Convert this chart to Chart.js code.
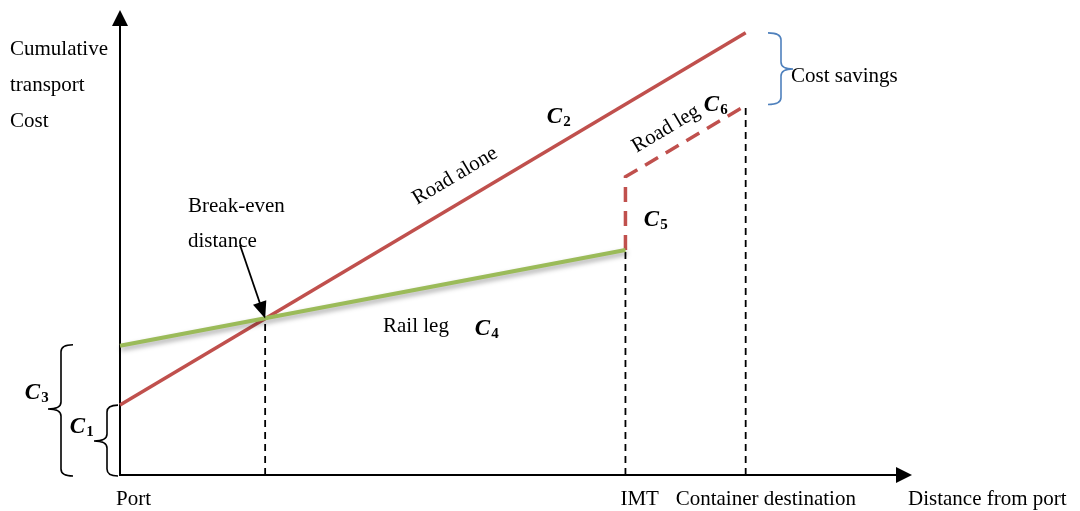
<!DOCTYPE html>
<html>
<head>
<meta charset="utf-8">
<script src="https://cdn.jsdelivr.net/npm/chart.js@4/dist/chart.umd.min.js"></script>
<style>
html,body{margin:0;padding:0;background:#fff;}
#wrap{width:1080px;height:511px;}
</style>
</head>
<body>
<div id="wrap"><canvas id="c" width="1080" height="511"></canvas></div>
<script>
// Key distances along the x axis (schematic units, 0..100)
const xPort = 0;
const xBreakEven = 18.35;
const xIMT = 63.9;
const xDestination = 79.1;

// Cumulative cost values (schematic units, 0..100)
const roadAloneX = [xPort, xDestination];
const roadAloneY = [15.1, 95.5];
const railLegX = [xPort, xIMT];
const railLegY = [27.9, 48.6];
const roadLegX = [xIMT, xIMT, xDestination];
const roadLegY = [48.6, 64.4, 79.8];
const breakEvenY = 33.8;

// Labels
const yAxisTitle = ["Cumulative", "transport", "Cost"];
const xAxisTitle = "Distance from port";
const xTickLabels = ["Port", "IMT", "Container destination"];

const RED = '#C0504D', GREEN = '#9BBB59', BLUE = '#4F81BD';
const pts = (xs, ys) => xs.map((x, i) => ({x, y: ys[i]}));

const SERIF = '"Liberation Serif", "Times New Roman", serif';

function brace(ctx, xEdge, xMid, xTip, y1, y2, ym, color, lw) {
  const r = 7;
  ctx.save();
  ctx.strokeStyle = color; ctx.lineWidth = lw;
  ctx.beginPath();
  ctx.moveTo(xEdge, y1);
  ctx.quadraticCurveTo(xMid, y1, xMid, y1 + r);
  ctx.lineTo(xMid, ym - r);
  ctx.quadraticCurveTo(xMid, ym, xTip, ym);
  ctx.quadraticCurveTo(xMid, ym, xMid, ym + r);
  ctx.lineTo(xMid, y2 - r);
  ctx.quadraticCurveTo(xMid, y2, xEdge, y2);
  ctx.stroke();
  ctx.restore();
}

function cLabel(ctx, sub, cx, cy) {
  ctx.save();
  ctx.fillStyle = '#000';
  ctx.textBaseline = 'alphabetic';
  ctx.font = 'bold italic 23px ' + SERIF;
  const w = ctx.measureText('C').width;
  const x0 = cx - (w + 9) / 2;
  ctx.fillText('C', x0, cy + 8);
  ctx.font = 'bold 15px ' + SERIF;
  ctx.fillText(sub, x0 + w + 1, cy + 11);
  ctx.restore();
}

function rotText(ctx, text, cx, cy, ang) {
  ctx.save();
  ctx.translate(cx, cy);
  ctx.rotate(ang);
  ctx.textAlign = 'center';
  ctx.textBaseline = 'middle';
  ctx.fillText(text, 0, 0);
  ctx.restore();
}

const diagramPlugin = {
  id: 'diagram',
  beforeDatasetsDraw(chart) {
    const ctx = chart.ctx;
    const xs = chart.scales.x, ys = chart.scales.y;
    const x0 = xs.getPixelForValue(0), y0 = ys.getPixelForValue(0);
    const xEnd = xs.right, yEnd = ys.top;
    ctx.save();
    ctx.strokeStyle = '#000'; ctx.fillStyle = '#000'; ctx.lineWidth = 2;
    // y axis
    ctx.beginPath(); ctx.moveTo(x0, y0 + 1); ctx.lineTo(x0, yEnd + 12); ctx.stroke();
    ctx.beginPath(); ctx.moveTo(x0, yEnd - 2); ctx.lineTo(x0 - 8, yEnd + 14); ctx.lineTo(x0 + 8, yEnd + 14); ctx.closePath(); ctx.fill();
    // x axis
    ctx.beginPath(); ctx.moveTo(x0 - 1, y0); ctx.lineTo(xEnd - 12, y0); ctx.stroke();
    ctx.beginPath(); ctx.moveTo(xEnd + 1, y0); ctx.lineTo(xEnd - 15, y0 - 8); ctx.lineTo(xEnd - 15, y0 + 8); ctx.closePath(); ctx.fill();
    ctx.restore();
  },
  beforeDatasetDraw(chart, args) {
    const ds = chart.data.datasets[args.index];
    if (ds.shadow) {
      const ctx = chart.ctx;
      ctx.save();
      ctx.shadowColor = 'rgba(0,0,0,0.35)';
      ctx.shadowBlur = 5;
      ctx.shadowOffsetX = 1;
      ctx.shadowOffsetY = 3;
    }
  },
  afterDatasetDraw(chart, args) {
    const ds = chart.data.datasets[args.index];
    if (ds.shadow) chart.ctx.restore();
  },
  afterDatasetsDraw(chart) {
    const ctx = chart.ctx;
    const xs = chart.scales.x, ys = chart.scales.y;
    const px = v => xs.getPixelForValue(v), py = v => ys.getPixelForValue(v);
    ctx.save();
    ctx.fillStyle = '#000';
    ctx.font = '21px ' + SERIF;
    ctx.textBaseline = 'alphabetic';
    // y axis title
    ctx.fillText(yAxisTitle[0], 10, 55);
    ctx.fillText(yAxisTitle[1], 10, 91);
    ctx.fillText(yAxisTitle[2], 10, 127);
    // x labels
    ctx.fillText(xTickLabels[0], px(xPort) - 4, 505);
    ctx.fillText(xTickLabels[1], px(xIMT) - 5, 505);
    ctx.fillText(xTickLabels[2], px(xDestination) - 70, 505);
    ctx.fillText(xAxisTitle, 908, 505);
    // Break-even
    ctx.fillText('Break-even', 188, 212);
    ctx.fillText('distance', 188, 247);
    ctx.fillText('Rail leg', 383, 332);
    ctx.fillText('Cost savings', 791, 82);
    // rotated labels
    const roadAng = Math.atan2(py(roadAloneY[1]) - py(roadAloneY[0]), px(roadAloneX[1]) - px(roadAloneX[0]));
    rotText(ctx, 'Road alone', 455, 176, roadAng);
    rotText(ctx, 'Road leg', 666, 129, roadAng);
    // C labels
    cLabel(ctx, '2', 559, 115);
    cLabel(ctx, '6', 716, 103);
    cLabel(ctx, '5', 656, 218);
    cLabel(ctx, '4', 487, 327);
    cLabel(ctx, '3', 37, 391);
    cLabel(ctx, '1', 82, 425);
    // braces
    brace(ctx, 73, 61, 48, py(railLegY[0]) - 1, py(0) + 1, 409, '#000', 1.6);
    brace(ctx, 118, 107, 94, py(roadAloneY[0]), py(0) + 1, 441, '#000', 1.6);
    brace(ctx, 768, 781, 793, py(roadAloneY[1]), py(roadLegY[2]) - 1, 69, BLUE, 1.6);
    // break-even arrow
    const tx = px(xBreakEven), ty = py(breakEvenY);
    const sx = 240, sy = 245;
    const a = Math.atan2(ty - sy, tx - sx);
    ctx.strokeStyle = '#000'; ctx.lineWidth = 1.8;
    ctx.beginPath(); ctx.moveTo(sx, sy); ctx.lineTo(tx - 14 * Math.cos(a), ty - 14 * Math.sin(a)); ctx.stroke();
    ctx.beginPath();
    ctx.moveTo(tx, ty);
    ctx.lineTo(tx - 17 * Math.cos(a) + 7 * Math.sin(a), ty - 17 * Math.sin(a) - 7 * Math.cos(a));
    ctx.lineTo(tx - 17 * Math.cos(a) - 7 * Math.sin(a), ty - 17 * Math.sin(a) + 7 * Math.cos(a));
    ctx.closePath(); ctx.fill();
    ctx.restore();
  }
};

const dashedV = (x, top) => ({
  data: [{x, y: 0}, {x, y: top}],
  borderColor: '#000', borderWidth: 1.8, borderDash: [7, 5],
  showLine: true, pointRadius: 0, clip: false, order: 5
});

new Chart(document.getElementById('c'), {
  type: 'scatter',
  data: {
    datasets: [
      dashedV(xBreakEven, breakEvenY),
      dashedV(xIMT, railLegY[1]),
      dashedV(xDestination, roadLegY[2]),
      { label: 'Road alone', data: pts(roadAloneX, roadAloneY), borderColor: RED, borderWidth: 3.5,
        showLine: true, pointRadius: 0, clip: false, order: 2 },
      { label: 'Rail leg', data: pts(railLegX, railLegY), borderColor: GREEN, borderWidth: 4,
        showLine: true, pointRadius: 0, clip: false, shadow: true, order: 1 },
      { label: 'Road leg', data: pts(roadLegX, roadLegY), borderColor: RED, borderWidth: 3.5, borderDash: [15, 9],
        showLine: true, pointRadius: 0, clip: false, order: 3 }
    ]
  },
  options: {
    responsive: false,
    animation: false,
    events: [],
    layout: { padding: { left: 120, right: 169, top: 12, bottom: 36 } },
    scales: {
      x: { type: 'linear', min: 0, max: 100, display: false },
      y: { type: 'linear', min: 0, max: 100, display: false }
    },
    plugins: { legend: { display: false }, tooltip: { enabled: false }, title: { display: false } }
  },
  plugins: [diagramPlugin]
});
</script>
</body>
</html>
